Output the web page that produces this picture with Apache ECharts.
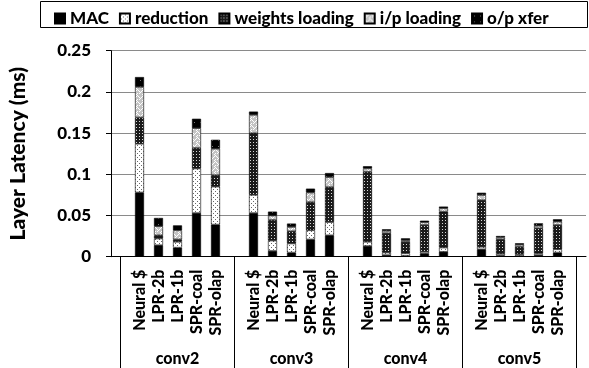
<!DOCTYPE html>
<html>
<head>
<meta charset="utf-8">
<script src="https://cdn.jsdelivr.net/npm/echarts@6/dist/echarts.min.js"></script>
<style>
  html, body { margin: 0; padding: 0; background: #fff; }
  #chart { width: 589px; height: 368px; }
</style>
</head>
<body>
<div id="chart"></div>
<script>
// bar configurations within each layer, and the layers
const configs = ["Neural $", "LPR-2b", "LPR-1b", "SPR-coal", "SPR-olap"];
const layers = ["conv2", "conv3", "conv4", "conv5"];

// latency components (ms), conv2..conv5, each in configs order
const mac       = [0.078, 0.014, 0.011, 0.053, 0.039,  0.053, 0.007, 0.005, 0.021, 0.026,  0.013, 0.002, 0.001, 0.004, 0.006,  0.009, 0.0015, 0.001, 0.002, 0.005];
const reduction = [0.059, 0.008, 0.007, 0.054, 0.046,  0.022, 0.0125, 0.011, 0.011, 0.016,  0.005, 0.003, 0.003, 0.002, 0.005,  0.003, 0.002, 0.002, 0.002, 0.004];
const weights   = [0.032, 0.004, 0.003, 0.025, 0.014,  0.0749, 0.0251, 0.0149, 0.0343, 0.0425,  0.085, 0.0235, 0.014, 0.0325, 0.0437,  0.0567, 0.0176, 0.009, 0.0305, 0.0295];
const ipLoad    = [0.037, 0.011, 0.011, 0.024, 0.032,  0.0222, 0.0053, 0.0052, 0.0115, 0.0121,  0.0041, 0.0028, 0.002, 0.0032, 0.0041,  0.0061, 0.0024, 0.0025, 0.003, 0.004];
const opXfer    = [0.012, 0.010, 0.006, 0.0114, 0.0109,  0.004, 0.0048, 0.0041, 0.0048, 0.0049,  0.0027, 0.002, 0.0023, 0.002, 0.002,  0.0028, 0.0016, 0.0018, 0.003, 0.0029];

const yTicks = { min: 0, max: 0.25, interval: 0.05 };

// a blank slot sits before each layer and after the last one
const categories = [""];
layers.forEach(() => { categories.push(...configs, ""); });
const spread = (vals) => {
  const out = [null];
  layers.forEach((_, g) => { out.push(...vals.slice(g * 5, g * 5 + 5), null); });
  return out;
};
const groupLabelAt = {};
layers.forEach((name, g) => { groupLabelAt[g * 6 + 3] = name; });

function pattern(w, h, bg, fg, pts) {
  const c = document.createElement("canvas");
  c.width = w; c.height = h;
  const ctx = c.getContext("2d");
  ctx.fillStyle = bg; ctx.fillRect(0, 0, w, h);
  ctx.fillStyle = fg;
  pts.forEach(([x, y]) => ctx.fillRect(x, y, 1, 1));
  return { image: c, repeat: "repeat" };
}

const fills = {
  mac: "#000",
  reduction: pattern(4, 4, "#fff", "#666", [[1, 1], [3, 3]]),
  weights: pattern(3, 3, "#1a1a1a", "#d8d8d8", [[1, 1]]),
  ipLoad: pattern(6, 6, "#c4c4c4", "#fff", [[0, 0], [1, 1], [2, 2], [4, 0], [3, 1], [4, 4], [5, 5], [1, 3], [5, 3]]),
  opXfer: pattern(6, 6, "#000", "#777", [[2, 2]])
};

const font = "Lato, 'Liberation Sans', sans-serif";
const heavy = 900;
const chart = echarts.init(document.getElementById("chart"), null, { renderer: "canvas" });

const bar = (name, vals, color) => ({
  name, type: "bar", stack: "lat", data: spread(vals), barWidth: 9,
  itemStyle: { color, borderColor: "#000", borderWidth: 0.6 },
  emphasis: { disabled: true }
});

chart.setOption({
  animation: false,
  backgroundColor: "#fff",
  textStyle: { fontFamily: font },
  graphic: [{
    type: "rect", shape: { x: 40.5, y: 1.5, width: 547, height: 26 },
    style: { fill: null, stroke: "#000", lineWidth: 1 }, silent: true
  }],
  legend: {
    left: 49, top: 5, itemWidth: 10, itemHeight: 10, itemGap: 10, icon: "rect",
    textStyle: { fontFamily: font, fontWeight: heavy, fontSize: 17, color: "#000" }
  },
  grid: { left: 110, right: 3, top: 50.7, bottom: 111.3, containLabel: false },
  xAxis: [{
    type: "category", data: categories,
    axisLine: { lineStyle: { color: "#000", width: 1 } },
    axisTick: { show: false },
    axisLabel: {
      interval: 0, rotate: 90, margin: 13, color: "#000",
      fontFamily: font, fontWeight: heavy, fontSize: 16
    }
  }, {
    type: "category", data: categories, position: "bottom",
    axisLine: { show: false },
    axisTick: { show: true, alignWithLabel: true, length: 112, interval: (i) => i % 6 === 0, lineStyle: { color: "#000" } },
    axisLabel: {
      interval: (i) => i % 6 === 3, margin: 94, color: "#000",
      fontFamily: font, fontWeight: heavy, fontSize: 16,
      formatter: (v, i) => groupLabelAt[i] || ""
    }
  }],
  yAxis: {
    type: "value", min: yTicks.min, max: yTicks.max, interval: yTicks.interval,
    name: "Layer Latency (ms)", nameLocation: "middle", nameGap: 82,
    nameTextStyle: { fontFamily: font, fontWeight: heavy, fontSize: 21, color: "#000" },
    axisLine: { show: true, lineStyle: { color: "#000" } },
    axisTick: { show: true, length: 5, lineStyle: { color: "#000" } },
    axisLabel: { margin: 20, color: "#000", fontFamily: font, fontWeight: heavy, fontSize: 17 },
    splitLine: { lineStyle: { color: "#8a8a8a", width: 1 } }
  },
  series: [
    bar("MAC", mac, fills.mac),
    bar("reduction", reduction, fills.reduction),
    bar("weights loading", weights, fills.weights),
    bar("i/p loading", ipLoad, fills.ipLoad),
    bar("o/p xfer", opXfer, fills.opXfer)
  ]
});
</script>
</body>
</html>
